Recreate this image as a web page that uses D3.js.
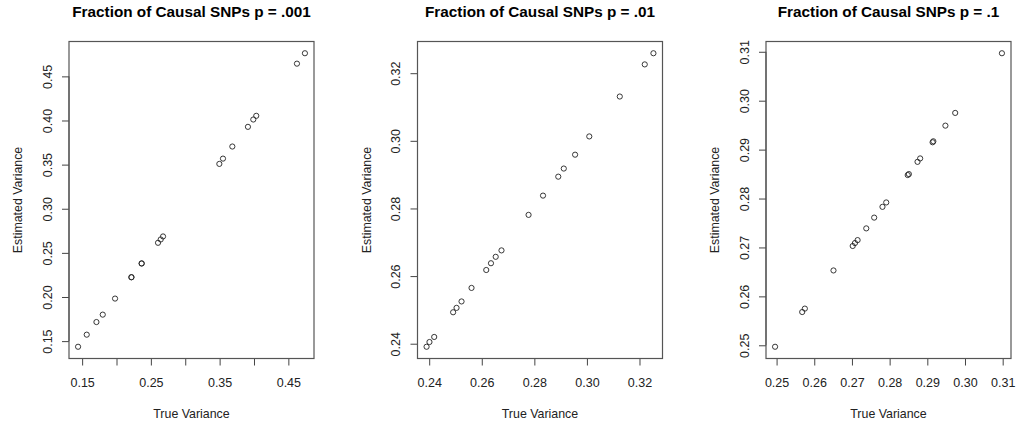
<!DOCTYPE html>
<html lang="en">
<head>
  <meta charset="UTF-8">
  <title>Fraction of Causal SNPs</title>
  <script src="https://d3js.org/d3.v7.min.js"></script>
  <style>
    body {
      margin: 0;
      background: #fff;
      font-family: 'Liberation Sans', Arial, sans-serif;
    }
    svg { display: block; }
    .title { font-weight: bold; font-size: 15.3px; fill: #000; }
    .tick-label { font-size: 12.5px; fill: #222; }
    .axis-label { font-size: 12.4px; fill: #222; }
  </style>
</head>
<body>

<svg width="1016" height="425"></svg>

<script>
// p = .001
const trueVar1 = [0.1441, 0.1567, 0.1708, 0.1800, 0.1979, 0.2216, 0.2218, 0.2365, 0.2367,
                  0.2604, 0.2643, 0.2677, 0.3496, 0.3549, 0.3685, 0.3912, 0.3990, 0.4033, 0.4625, 0.4741];
const estVar1  = [0.1436, 0.1573, 0.1716, 0.1800, 0.1982, 0.2223, 0.2225, 0.2379, 0.2381,
                  0.2614, 0.2652, 0.2686, 0.3508, 0.3568, 0.3705, 0.3928, 0.4011, 0.4053, 0.4644, 0.4762];
const xTicks1 = [0.15, 0.20, 0.25, 0.30, 0.35, 0.40, 0.45];
const xLabels1 = ["0.15", "", "0.25", "", "0.35", "", "0.45"];
const yTicks1 = [0.15, 0.20, 0.25, 0.30, 0.35, 0.40, 0.45];

// p = .01
const trueVar2 = [0.2390, 0.2401, 0.2419, 0.2491, 0.2504, 0.2523, 0.2561, 0.2617, 0.2635, 0.2653,
                  0.2675, 0.2778, 0.2833, 0.2891, 0.2912, 0.2955, 0.3009, 0.3125, 0.3220, 0.3253];
const estVar2  = [0.2391, 0.2405, 0.2420, 0.2493, 0.2506, 0.2525, 0.2565, 0.2618, 0.2638, 0.2657,
                  0.2676, 0.2781, 0.2838, 0.2894, 0.2918, 0.2959, 0.3013, 0.3131, 0.3226, 0.3259];
const xTicks2 = [0.24, 0.26, 0.28, 0.30, 0.32];
const xLabels2 = ["0.24", "0.26", "0.28", "0.30", "0.32"];
const yTicks2 = [0.24, 0.26, 0.28, 0.30, 0.32];

// p = .1
const trueVar3 = [0.2496, 0.2568, 0.2575, 0.2651, 0.2702, 0.2708, 0.2715, 0.2738, 0.2759, 0.2781,
                  0.2791, 0.2848, 0.2851, 0.2874, 0.2881, 0.2914, 0.2916, 0.2948, 0.2974, 0.3098];
const estVar3  = [0.2497, 0.2568, 0.2575, 0.2653, 0.2703, 0.2709, 0.2715, 0.2739, 0.2761, 0.2783,
                  0.2792, 0.2848, 0.2850, 0.2875, 0.2882, 0.2915, 0.2917, 0.2949, 0.2975, 0.3097];
const xTicks3 = [0.25, 0.26, 0.27, 0.28, 0.29, 0.30, 0.31];
const xLabels3 = ["0.25", "0.26", "0.27", "0.28", "0.29", "0.30", "0.31"];
const yTicks3 = [0.25, 0.26, 0.27, 0.28, 0.29, 0.30, 0.31];

const titles = ["Fraction of Causal SNPs p = .001", "Fraction of Causal SNPs p = .01", "Fraction of Causal SNPs p = .1"];

const panels = [
  {left: 69,    x: trueVar1, y: estVar1, xt: xTicks1, xl: xLabels1, yt: yTicks1},
  {left: 417.5, x: trueVar2, y: estVar2, xt: xTicks2, xl: xLabels2, yt: yTicks2},
  {left: 766,   x: trueVar3, y: estVar3, xt: xTicks3, xl: xLabels3, yt: yTicks3}
];

const svg = d3.select("svg");
const boxTop = 41.5, boxW = 245, boxH = 317, tickLen = 7;
const fmt = d3.format(".2f");

// R-style 4% padding on the data range
function padded(vals) {
  const [lo, hi] = d3.extent(vals);
  const p = (hi - lo) * 0.04;
  return [lo - p, hi + p];
}

panels.forEach((p, i) => {
  const g = svg.append("g").attr("transform", `translate(${p.left},${boxTop})`);
  const x = d3.scaleLinear().domain(padded(p.x)).range([0, boxW]);
  const y = d3.scaleLinear().domain(padded(p.y)).range([boxH, 0]);

  // bottom axis
  const xa = g.append("g")
    .attr("transform", `translate(0,${boxH})`)
    .call(d3.axisBottom(x).tickValues(p.xt).tickSize(tickLen).tickFormat((d, j) => p.xl[j]))
    .attr("font-family", null).attr("font-size", null);
  xa.select(".domain").attr("stroke", "#444")
    .attr("d", `M${x(p.xt[0])},0H${x(p.xt[p.xt.length - 1])}`);
  xa.selectAll(".tick line").attr("stroke", "#444");
  xa.selectAll(".tick text")
    .attr("class", "tick-label")
    .attr("y", 0).attr("dy", null)
    .attr("transform", "translate(0,28.5)");

  // left axis
  const ya = g.append("g")
    .call(d3.axisLeft(y).tickValues(p.yt).tickSize(tickLen).tickFormat(fmt))
    .attr("font-family", null).attr("font-size", null);
  ya.select(".domain").attr("stroke", "#444")
    .attr("d", `M0,${y(p.yt[0])}V${y(p.yt[p.yt.length - 1])}`);
  ya.selectAll(".tick line").attr("stroke", "#444");
  ya.selectAll(".tick text")
    .attr("class", "tick-label")
    .attr("x", 0).attr("dy", null)
    .attr("text-anchor", "middle")
    .attr("transform", "translate(-17.3,0) rotate(-90)");

  // box
  g.append("rect")
    .attr("width", boxW).attr("height", boxH)
    .attr("fill", "none").attr("stroke", "#555").attr("stroke-width", 1.2);

  // points
  g.selectAll("circle")
    .data(p.x.map((v, j) => [v, p.y[j]]))
    .join("circle")
    .attr("cx", d => x(d[0]))
    .attr("cy", d => y(d[1]))
    .attr("r", 2.6)
    .attr("fill", "none")
    .attr("stroke", "#222")
    .attr("stroke-width", 0.9);

  // titles and axis labels
  svg.append("text")
    .attr("class", "title")
    .attr("x", p.left + boxW / 2).attr("y", 16.5)
    .attr("text-anchor", "middle")
    .text(titles[i]);

  svg.append("text")
    .attr("class", "axis-label")
    .attr("x", p.left + boxW / 2).attr("y", 418)
    .attr("text-anchor", "middle")
    .text("True Variance");

  svg.append("text")
    .attr("class", "axis-label")
    .attr("transform", `translate(${p.left - 47},${boxTop + boxH / 2}) rotate(-90)`)
    .attr("text-anchor", "middle")
    .text("Estimated Variance");
});
</script>

</body>
</html>
